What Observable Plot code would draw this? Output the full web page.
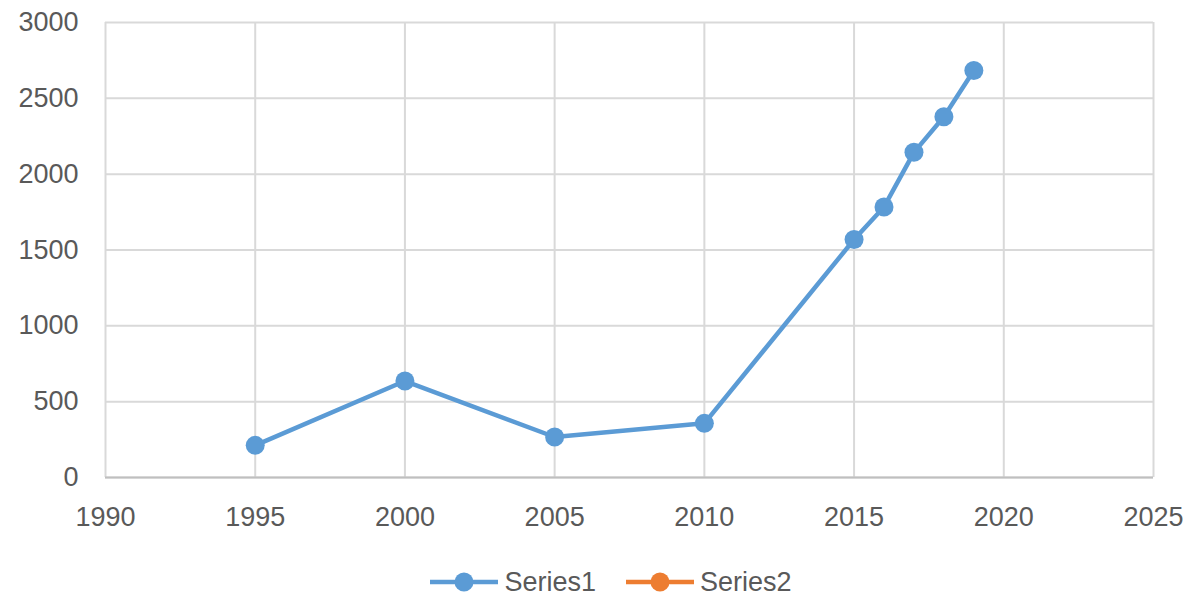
<!DOCTYPE html>
<html>
<head>
<meta charset="utf-8">
<script src="https://cdn.jsdelivr.net/npm/d3@7"></script>
<script src="https://cdn.jsdelivr.net/npm/@observablehq/plot@0.6"></script>
<style>
  body { margin: 0; background: #fff; font-family: "Liberation Sans", Arial, sans-serif; }
  #chart svg { display: block; }
  .legend { display: flex; justify-content: center; align-items: center; height: 30px; margin-top: 22px; color: #595959; font-size: 27px; transform: translateX(16px); }
  .legend .item { display: flex; align-items: center; }
  .legend .item + .item { margin-left: 30px; }
  .legend svg { display: block; margin-right: 6px; }
</style>
</head>
<body>
<div id="chart"></div>
<div class="legend" id="legend"></div>
<script>
const years = [1995, 2000, 2005, 2010, 2015, 2016, 2017, 2018, 2019];
const series1 = [212, 636, 267, 357, 1569, 1784, 2144, 2379, 2684];
const series2 = [];
const seriesNames = ["Series1", "Series2"];
const seriesColors = ["#5B9BD5", "#ED7D31"];
const xTicks = [1990, 1995, 2000, 2005, 2010, 2015, 2020, 2025];
const yTicks = [0, 500, 1000, 1500, 2000, 2500, 3000];

const data1 = years.map((y, i) => ({year: y, value: series1[i]}));
const data2 = series2.map(d => d);

const chart = Plot.plot({
  width: 1190,
  height: 545,
  marginLeft: 105,
  marginRight: 37,
  marginTop: 22,
  marginBottom: 68,
  style: { fontFamily: "Liberation Sans, Arial, sans-serif", fontSize: "27px", color: "#595959", background: "#fff" },
  x: { domain: [1990, 2025], label: null },
  y: { domain: [0, 3000], label: null },
  marks: [
    Plot.gridX(xTicks, { stroke: "#d9d9d9", strokeOpacity: 1, strokeWidth: 2 }),
    Plot.gridY(yTicks, { stroke: "#d9d9d9", strokeOpacity: 1, strokeWidth: 2 }),
    Plot.ruleY([0], { stroke: "#bfbfbf", strokeWidth: 2 }),
    Plot.axisX(xTicks, { tickSize: 0, tickPadding: 29, fill: "#595959", tickFormat: d => String(d), fontSize: 27 }),
    Plot.axisY(yTicks, { tickSize: 0, tickPadding: 27, fill: "#595959", tickFormat: d => String(d), fontSize: 27 }),
    Plot.line(data1, { x: "year", y: "value", stroke: seriesColors[0], strokeWidth: 4.5 }),
    Plot.dot(data1, { x: "year", y: "value", r: 9.5, fill: seriesColors[0], stroke: "none" }),
    Plot.line(data2, { x: "year", y: "value", stroke: seriesColors[1], strokeWidth: 4.5 }),
    Plot.dot(data2, { x: "year", y: "value", r: 9.5, fill: seriesColors[1], stroke: "none" })
  ]
});
document.getElementById("chart").appendChild(chart);

const legend = document.getElementById("legend");
seriesNames.forEach((name, i) => {
  const item = document.createElement("div");
  item.className = "item";
  item.innerHTML = `<svg width="68" height="24" viewBox="0 0 68 24"><line x1="0" y1="12" x2="68" y2="12" stroke="${seriesColors[i]}" stroke-width="4.5"/><circle cx="34" cy="12" r="9.5" fill="${seriesColors[i]}"/></svg><span>${name}</span>`;
  legend.appendChild(item);
});
</script>
</body>
</html>
